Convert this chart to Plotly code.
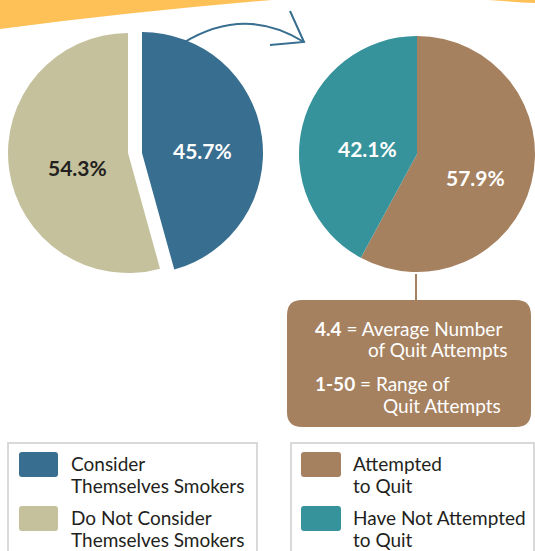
import plotly.graph_objects as go

W, H = 535, 551

# data
smoker_labels = ["Consider Themselves Smokers", "Do Not Consider Themselves Smokers"]
smoker_values = [45.7, 54.3]
quit_labels = ["Attempted to Quit", "Have Not Attempted to Quit"]
quit_values = [57.9, 42.1]
avg_quit_attempts = "4.4"
range_quit_attempts = "1-50"

legend_left = [["Consider", "Themselves Smokers"], ["Do Not Consider", "Themselves Smokers"]]
legend_right = [["Attempted", "to Quit"], ["Have Not Attempted", "to Quit"]]

BLUE = "#386E8F"
TAN = "#C4C19C"
BROWN = "#A68160"
TEAL = "#37939B"
ORANGE = "#FDC158"
DARK = "#231F20"
CLEAR = "rgba(0,0,0,0)"
FONT = "Lato"


def px(x):
    return x / W


def py(y):
    return 1 - y / H


def box_domain(cx, cy, r):
    return dict(x=[px(cx - r), min(px(cx + r), 1)], y=[py(cy + r), py(cy - r)])


def path(points, close=True):
    s = "M " + " L ".join(f"{px(x)},{py(y)}" for x, y in points)
    return s + (" Z" if close else "")


def rounded_rect(x0, y0, x1, y1, r):
    return (
        f"M {px(x0 + r)},{py(y0)} L {px(x1 - r)},{py(y0)} "
        f"Q {px(x1)},{py(y0)} {px(x1)},{py(y0 + r)} L {px(x1)},{py(y1 - r)} "
        f"Q {px(x1)},{py(y1)} {px(x1 - r)},{py(y1)} L {px(x0 + r)},{py(y1)} "
        f"Q {px(x0)},{py(y1)} {px(x0)},{py(y1 - r)} L {px(x0)},{py(y0 + r)} "
        f"Q {px(x0)},{py(y0)} {px(x0 + r)},{py(y0)} Z"
    )


pie_common = dict(
    sort=False,
    direction="clockwise",
    rotation=0,
    textinfo="none",
    hoverinfo="skip",
    showlegend=False,
)

fig = go.Figure()
# left pie, blue slice pulled out to the right (drawn as two traces)
fig.add_trace(go.Pie(
    labels=smoker_labels, values=smoker_values,
    marker=dict(colors=[BLUE, CLEAR], line=dict(width=0)),
    domain=box_domain(142, 153, 121), **pie_common,
))
fig.add_trace(go.Pie(
    labels=smoker_labels, values=smoker_values,
    marker=dict(colors=[CLEAR, TAN], line=dict(width=0)),
    domain=box_domain(128, 153, 120), **pie_common,
))
# right pie
fig.add_trace(go.Pie(
    labels=quit_labels, values=quit_values,
    marker=dict(colors=[BROWN, TEAL], line=dict(width=0)),
    domain=dict(x=[px(299), 1], y=[py(272), py(36)]), **pie_common,
))

shapes = [
    # orange swoosh at the top
    dict(type="path", path=f"M {px(0)},{py(0)} L {px(0)},{py(29)} Q {px(130)},{py(12)} {px(272)},{py(0)} Z",
         fillcolor=ORANGE, line=dict(width=0), layer="below"),
    dict(type="path", path=f"M {px(488)},{py(0)} Q {px(515)},{py(2)} {px(535)},{py(3)} L {px(535)},{py(0)} Z",
         fillcolor=ORANGE, line=dict(width=0), layer="below"),
    # curved arrow
    dict(type="path", path=f"M {px(183)},{py(43)} Q {px(245)},{py(5)} {px(304)},{py(42)}",
         line=dict(color=BLUE, width=2)),
    dict(type="path", path=path([(290, 11), (304, 42), (270, 45)], close=False),
         line=dict(color=BLUE, width=2)),
    # connector + info box
    dict(type="line", x0=px(416), x1=px(416), y0=py(274), y1=py(302), line=dict(color=BROWN, width=2)),
    dict(type="path", path=rounded_rect(287, 300, 531, 427, 15), fillcolor=BROWN, line=dict(width=0)),
    # legend boxes
    dict(type="rect", x0=px(8), x1=px(257), y0=py(443), y1=py(560), line=dict(color="#D9D9D9", width=2)),
    dict(type="rect", x0=px(291), x1=px(534), y0=py(443), y1=py(560), line=dict(color="#D9D9D9", width=2)),
]

annotations = []


def add_text(x, y, text, size=19, color=DARK, anchor="left"):
    annotations.append(dict(
        x=px(x), y=py(y), xref="paper", yref="paper", text=text, showarrow=False,
        xanchor=anchor, yanchor="middle", font=dict(family=FONT, size=size, color=color),
    ))


# slice percentages
pct = "<b>{:.1f}%</b>"
add_text(202, 150, pct.format(smoker_values[0]), size=21, color="white", anchor="center")
add_text(77, 167, pct.format(smoker_values[1]), size=21, color=DARK, anchor="center")
add_text(475, 177, pct.format(quit_values[0]), size=21, color="white", anchor="center")
add_text(367, 149, pct.format(quit_values[1]), size=21, color="white", anchor="center")

# info box text
add_text(313, 328, f"<b>{avg_quit_attempts}</b> = Average Number", color="white")
add_text(366, 349, "of Quit Attempts", color="white")
add_text(313, 383, f"<b>{range_quit_attempts}</b> = Range of", color="white")
add_text(381, 405, "Quit Attempts", color="white")

# legends
swatch_rows = [(452, 477), (506, 531)]
for (sx0, sx1, tx), colors, lines in [
    ((19, 58, 69), [BLUE, TAN], legend_left),
    ((301, 341, 351), [BROWN, TEAL], legend_right),
]:
    for (y0, y1), c, ln in zip(swatch_rows, colors, lines):
        shapes.append(dict(type="path", path=rounded_rect(sx0, y0, sx1, y1, 3), fillcolor=c, line=dict(width=0)))
        add_text(tx, y0 + 11, ln[0])
        add_text(tx, y0 + 33, ln[1])

fig.update_layout(
    width=W, height=H,
    margin=dict(l=0, r=0, t=0, b=0),
    paper_bgcolor="white",
    plot_bgcolor="white",
    shapes=shapes,
    annotations=annotations,
    font=dict(family=FONT, color=DARK),
)

# drop the browser's default body margin so the figure fills the window
fig.write_html(
    "out.html",
    config={"displayModeBar": False},
    post_script="document.body.style.margin='0';",
)
